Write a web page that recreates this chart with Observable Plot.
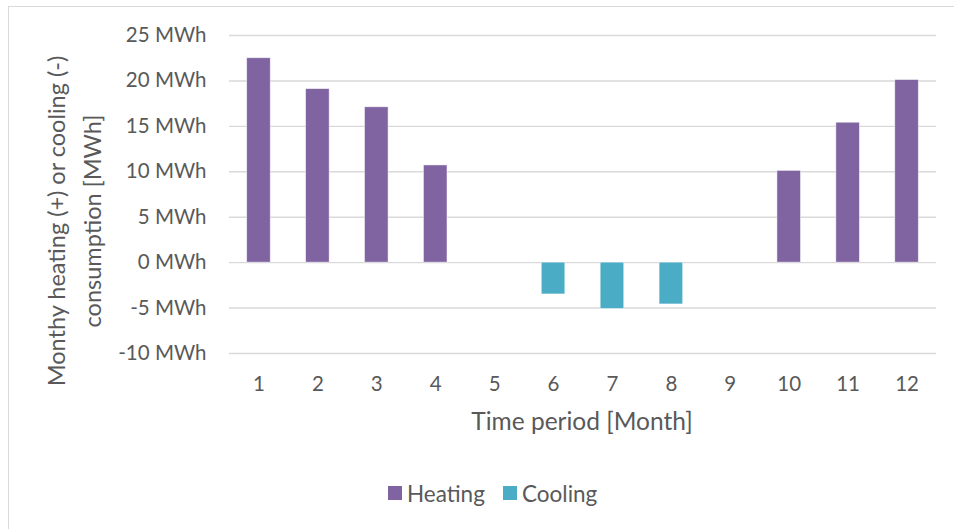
<!DOCTYPE html>
<html>
<head>
<meta charset="utf-8">
<script src="https://cdn.jsdelivr.net/npm/d3@7"></script>
<script src="https://cdn.jsdelivr.net/npm/@observablehq/plot@0.6"></script>
<style>
  body { margin: 0; background: #fff; }
  #wrap { position: relative; width: 954px; height: 529px; overflow: hidden; font-family: Lato, sans-serif; color: #595959; }
  #frame { position: absolute; left: 8px; top: 6px; width: 990px; height: 560px; border: 1px solid #d9d9d9; box-sizing: border-box; }
  #chart { position: absolute; left: 0; top: 0; }
  .key { position: absolute; top: 480px; height: 26px; display: flex; align-items: center; font-size: 22.5px; white-space: nowrap; }
  .sw { width: 14px; height: 14px; margin-right: 5px; }
</style>
</head>
<body>
<div id="wrap">
  <div id="frame"></div>
  <div id="chart"></div>
  <div id="legend"></div>
</div>
<script>
// Monthly energy balance: heating positive, cooling negative (MWh)
const months = [1, 2, 3, 4, 5, 6, 7, 8, 9, 10, 11, 12];
const heating = [22.5, 19.1, 17.1, 10.7, null, null, null, null, null, 10.1, 15.4, 20.1];
const cooling = [null, null, null, null, null, -3.5, -5.1, -4.6, null, null, null, null];
const yTicks = [25, 20, 15, 10, 5, 0, -5, -10];
const seriesNames = ["Heating", "Cooling"];
const seriesColors = ["#8064A2", "#4BACC6"];
const yTitle = ["Monthy heating (+) or cooling (-)", "consumption [MWh]"];
const xTitle = "Time period [Month]";

const rows = [];
months.forEach((m, i) => {
  if (heating[i] != null) rows.push({month: m, value: heating[i], series: "Heating"});
  if (cooling[i] != null) rows.push({month: m, value: cooling[i], series: "Cooling"});
});

const textColor = "#595959";
const W = 954, H = 440;

const chart = Plot.plot({
  width: W,
  height: H,
  marginLeft: 229,
  marginRight: 18,
  marginTop: 35,
  marginBottom: 87,
  style: { fontFamily: "Lato, sans-serif", color: textColor, background: "transparent" },
  x: { type: "band", domain: months, paddingInner: 0.6, paddingOuter: 0.3, round: false },
  y: { domain: [-10, 25] },
  color: { domain: seriesNames, range: seriesColors },
  marks: [
    Plot.gridY(yTicks, { stroke: "#d9d9d9", strokeOpacity: 1, strokeWidth: 1.4 }),
    Plot.barY(rows, { x: "month", y: "value", fill: "series", stroke: "#ffffff", strokeOpacity: 0.6, strokeWidth: 0.8 }),
    Plot.axisY(yTicks, { tickSize: 0, tickPadding: 23, tickFormat: d => `${d} MWh`, fontSize: 20.5, fill: textColor, label: null }),
    Plot.axisX({ tickSize: 0, tickPadding: 23, fontSize: 20.5, fill: textColor, label: null })
  ]
});
document.getElementById("chart").appendChild(chart);

// Axis titles
const svg = d3.select(chart);
svg.append("text")
  .attr("x", 582)
  .attr("y", 424)
  .attr("text-anchor", "middle")
  .attr("dominant-baseline", "middle")
  .attr("fill", textColor)
  .style("font-size", "24.5px")
  .text(xTitle);

const yt = svg.append("text")
  .attr("transform", "translate(76,221) rotate(-90)")
  .attr("text-anchor", "middle")
  .attr("fill", textColor)
  .style("font-size", "23.5px");
const baselines = [-11, 25];
yTitle.forEach((line, i) => {
  yt.append("tspan").attr("x", 0).attr("y", baselines[i]).text(line);
});

// Legend
const legend = document.getElementById("legend");
const keyLeft = [388, 503];
seriesNames.forEach((name, i) => {
  const k = document.createElement("div");
  k.className = "key";
  k.style.left = keyLeft[i] + "px";
  const sw = document.createElement("div");
  sw.className = "sw";
  sw.style.background = seriesColors[i];
  k.appendChild(sw);
  k.appendChild(document.createTextNode(name));
  legend.appendChild(k);
});
</script>
</body>
</html>
